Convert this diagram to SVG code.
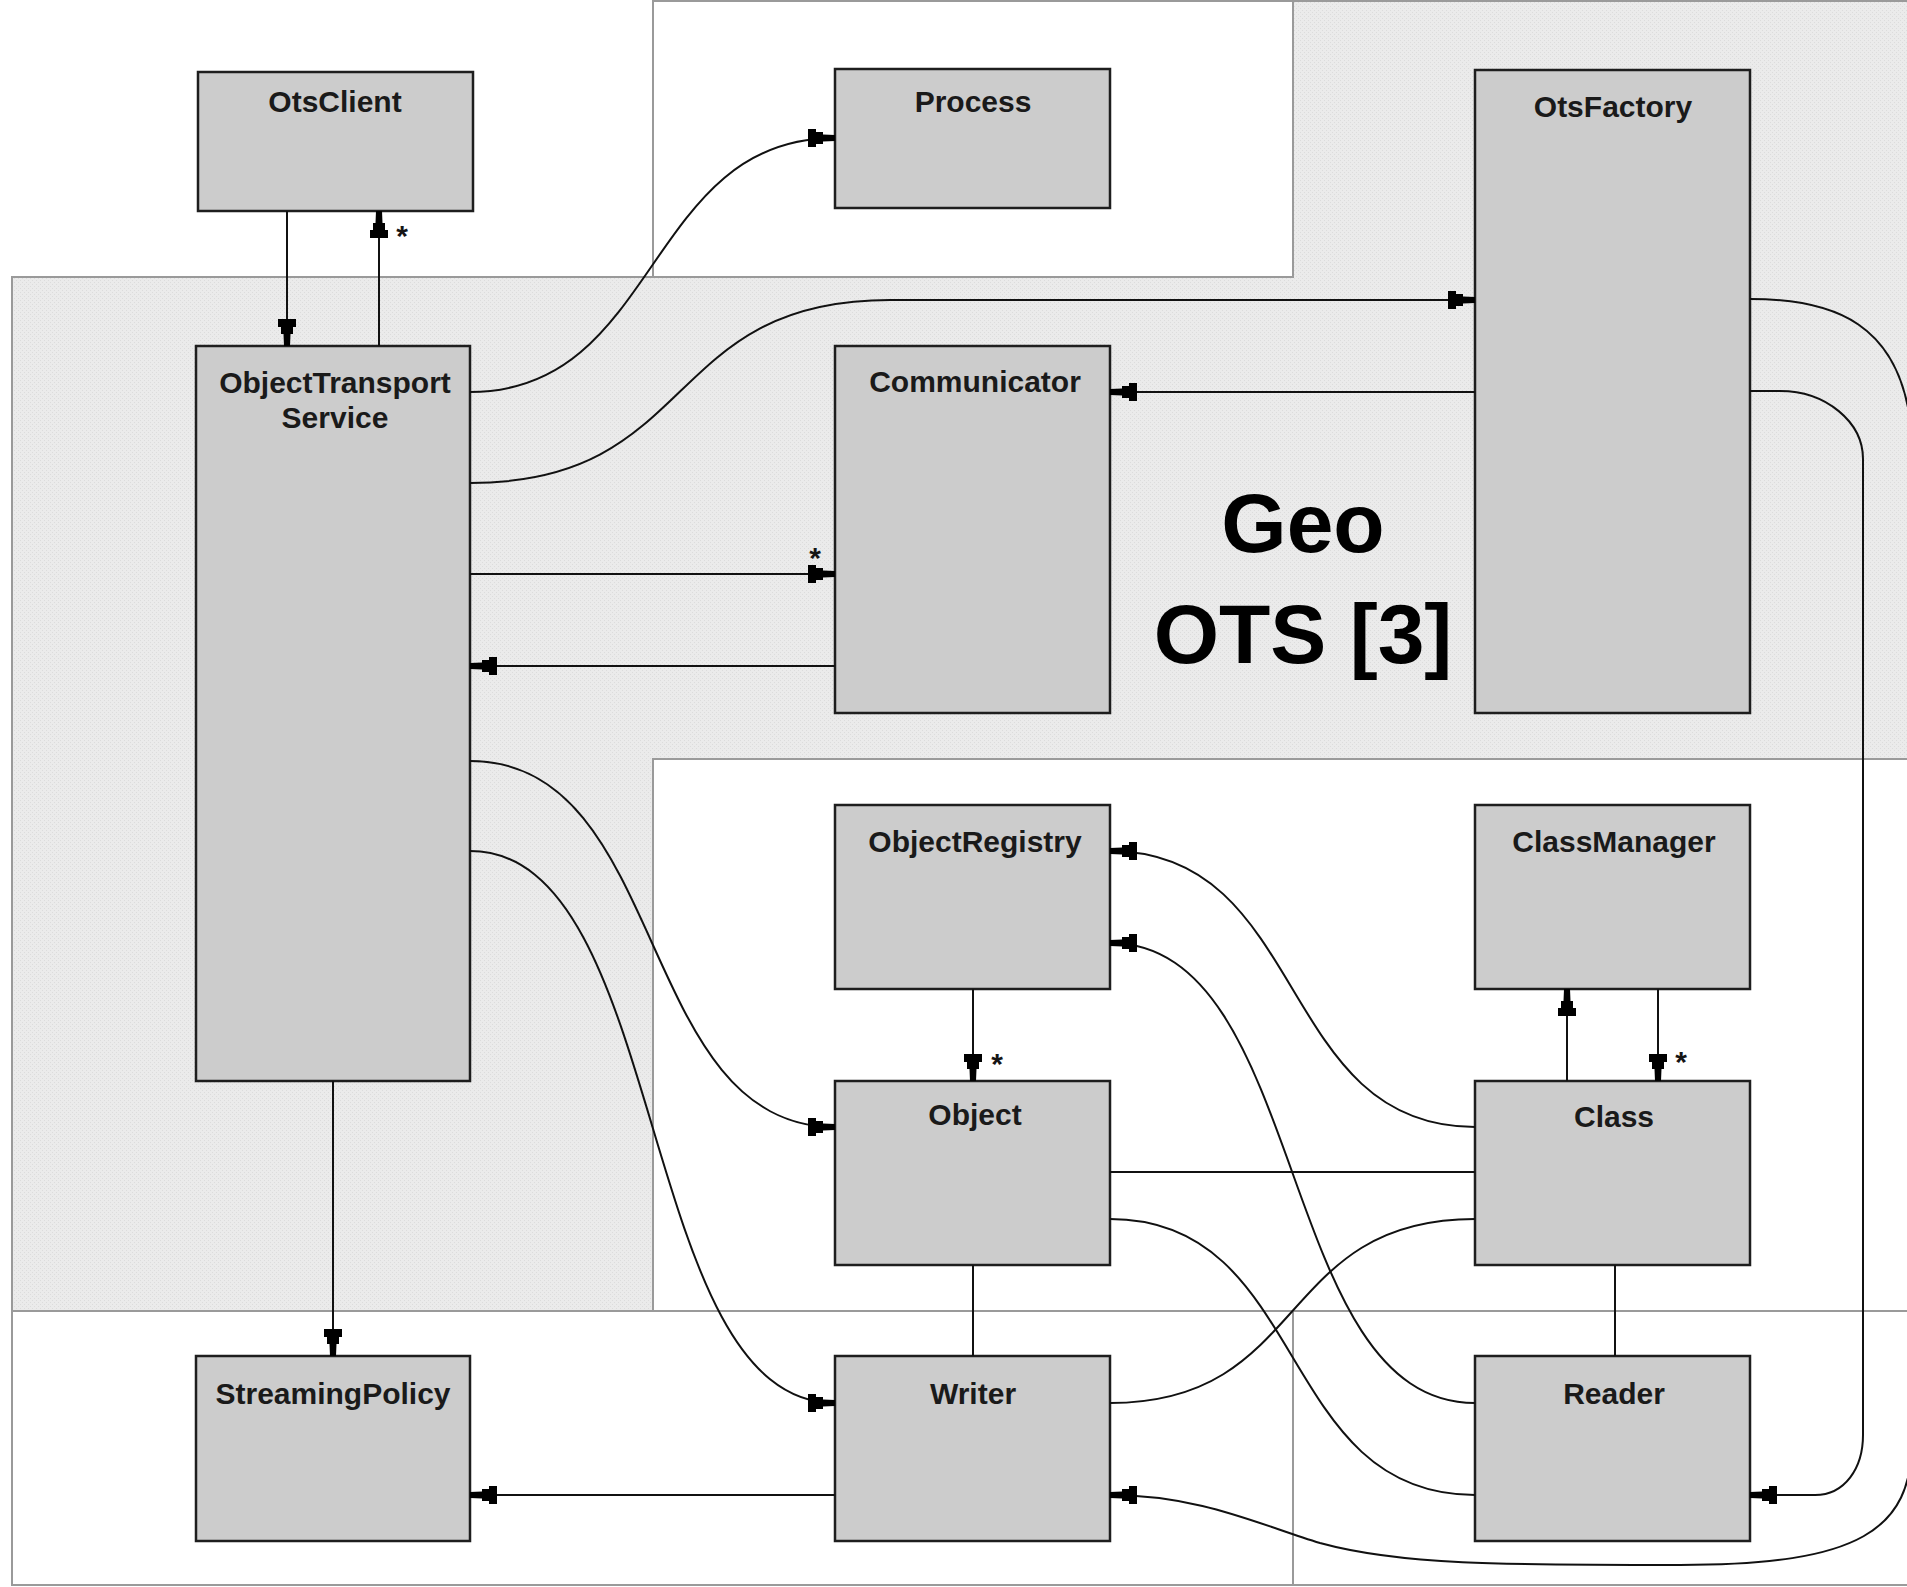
<svg xmlns="http://www.w3.org/2000/svg" width="1907" height="1587" viewBox="0 0 1907 1587">
  <style>
    .region { fill: #ffffff; stroke: #9a9a9a; stroke-width: 2; }
    .gray { fill: url(#hatch); stroke: #9a9a9a; stroke-width: 2; }
    .box { fill: #cccccc; stroke: #1e1e1e; stroke-width: 2.5; }
    .lbl { font-family: "Liberation Sans", Arial, sans-serif; font-weight: bold; font-size: 30px; fill: #1a1a1a; text-anchor: middle; }
    .star { font-family: "Liberation Sans", Arial, sans-serif; font-weight: bold; font-size: 30px; fill: #151515; text-anchor: middle; }
    .big { font-family: "Liberation Sans", Arial, sans-serif; font-weight: bold; font-size: 84px; fill: #000000; text-anchor: middle; }
    .conn { fill: none; stroke: #111111; stroke-width: 2; }
    .arrow { marker-end: url(#arr); }
  </style>
  <defs>
    <pattern id="hatch" patternUnits="userSpaceOnUse" x="0" y="0" width="4" height="4">
      <rect x="0" y="0" width="4" height="4" fill="#ebebeb"/>
      <rect x="0" y="0" width="1" height="1" fill="#dcdcdc"/>
      <rect x="2" y="2" width="1" height="1" fill="#dcdcdc"/>
    </pattern>
    <marker id="arr" markerUnits="userSpaceOnUse" viewBox="-28 -10 30 20" markerWidth="30" markerHeight="20" refX="0" refY="0" orient="auto">
      <path d="M0,-3 L-12,-3.5 L-12,-6 L-19,-6 L-19,-9 L-27,-9 L-27,9 L-19,9 L-19,6 L-12,6 L-12,3.5 L0,3 Z" fill="#000000"/>
    </marker>
  </defs>

  <rect x="0" y="0" width="1907" height="1587" fill="#ffffff"/>

  <g id="regions">
    <polygon class="gray" points="12,277 653,277 653,1 1925,1 1925,1311 12,1311"/>
    <rect class="region" x="653" y="1" width="640" height="276"/>
    <rect class="region" x="653" y="759" width="1270" height="552"/>
    <rect class="region" x="12" y="1311" width="1281" height="274"/>
    <rect class="region" x="1293" y="1311" width="630" height="274"/>
    <text class="big" x="1303" y="552">Geo</text>
    <text class="big" x="1303" y="663">OTS [3]</text>
  </g>

  <g id="node-OtsClient">
    <rect class="box" x="198" y="72" width="275" height="139"/>
    <text class="lbl" x="335" y="112">OtsClient</text>
  </g>
  <g id="node-Process">
    <rect class="box" x="835" y="69" width="275" height="139"/>
    <text class="lbl" x="973" y="112">Process</text>
  </g>
  <g id="node-OtsFactory">
    <rect class="box" x="1475" y="70" width="275" height="643"/>
    <text class="lbl" x="1613" y="117">OtsFactory</text>
  </g>
  <g id="node-ObjectTransportService">
    <rect class="box" x="196" y="346" width="274" height="735"/>
    <text class="lbl" x="335" y="393">ObjectTransport</text>
    <text class="lbl" x="335" y="428">Service</text>
  </g>
  <g id="node-Communicator">
    <rect class="box" x="835" y="346" width="275" height="367"/>
    <text class="lbl" x="975" y="392">Communicator</text>
  </g>
  <g id="node-ObjectRegistry">
    <rect class="box" x="835" y="805" width="275" height="184"/>
    <text class="lbl" x="975" y="852">ObjectRegistry</text>
  </g>
  <g id="node-ClassManager">
    <rect class="box" x="1475" y="805" width="275" height="184"/>
    <text class="lbl" x="1614" y="852">ClassManager</text>
  </g>
  <g id="node-Object">
    <rect class="box" x="835" y="1081" width="275" height="184"/>
    <text class="lbl" x="975" y="1125">Object</text>
  </g>
  <g id="node-Class">
    <rect class="box" x="1475" y="1081" width="275" height="184"/>
    <text class="lbl" x="1614" y="1127">Class</text>
  </g>
  <g id="node-StreamingPolicy">
    <rect class="box" x="196" y="1356" width="274" height="185"/>
    <text class="lbl" x="333" y="1404">StreamingPolicy</text>
  </g>
  <g id="node-Writer">
    <rect class="box" x="835" y="1356" width="275" height="185"/>
    <text class="lbl" x="973" y="1404">Writer</text>
  </g>
  <g id="node-Reader">
    <rect class="box" x="1475" y="1356" width="275" height="185"/>
    <text class="lbl" x="1614" y="1404">Reader</text>
  </g>

  <g id="connectors">
    <path class="conn arrow" d="M287,211 L287,346"/>
    <path class="conn arrow" d="M379,346 L379,211"/>
    <path class="conn arrow" d="M470,392 C660,392 645,138 835,138"/>
    <path class="conn arrow" d="M470,483 C700,483 660,300 890,300 L1475,300"/>
    <path class="conn arrow" d="M1475,392 L1110,392"/>
    <path class="conn arrow" d="M470,574 L835,574"/>
    <path class="conn arrow" d="M835,666 L470,666"/>
    <path class="conn arrow" d="M470,761 C670,761 635,1127 835,1127"/>
    <path class="conn arrow" d="M470,851 C670,851 635,1403 835,1403"/>
    <path class="conn arrow" d="M333,1081 L333,1356"/>
    <path class="conn arrow" d="M835,1495 L470,1495"/>
    <path class="conn arrow" d="M973,989 L973,1081"/>
    <path class="conn" d="M973,1265 L973,1356"/>
    <path class="conn" d="M1110,1172 L1475,1172"/>
    <path class="conn arrow" d="M1475,1127 C1275,1127 1310,851 1110,851"/>
    <path class="conn arrow" d="M1475,1403 C1275,1403 1310,943 1110,943"/>
    <path class="conn" d="M1110,1219 C1310,1219 1275,1495 1475,1495"/>
    <path class="conn" d="M1110,1403 C1310,1403 1275,1219 1475,1219"/>
    <path class="conn arrow" d="M1567,1081 L1567,989"/>
    <path class="conn arrow" d="M1658,989 L1658,1081"/>
    <path class="conn" d="M1615,1265 L1615,1356"/>
    <path class="conn arrow" d="M1750,391 L1780,391 C1826,391 1863,422 1863,459 L1863,1435 C1863,1468 1845,1495 1815,1495 L1750,1495"/>
    <path class="conn arrow" d="M1750,299 C1830,299 1905,320 1912,440 L1912,1440 C1912,1530 1860,1565 1680,1565 C1500,1565 1400,1565 1320,1543 C1260,1525 1200,1495 1110,1495"/>
    <text class="star" x="402" y="246">*</text>
    <text class="star" x="815" y="568">*</text>
    <text class="star" x="997" y="1074">*</text>
    <text class="star" x="1681" y="1072">*</text>
  </g>
</svg>
